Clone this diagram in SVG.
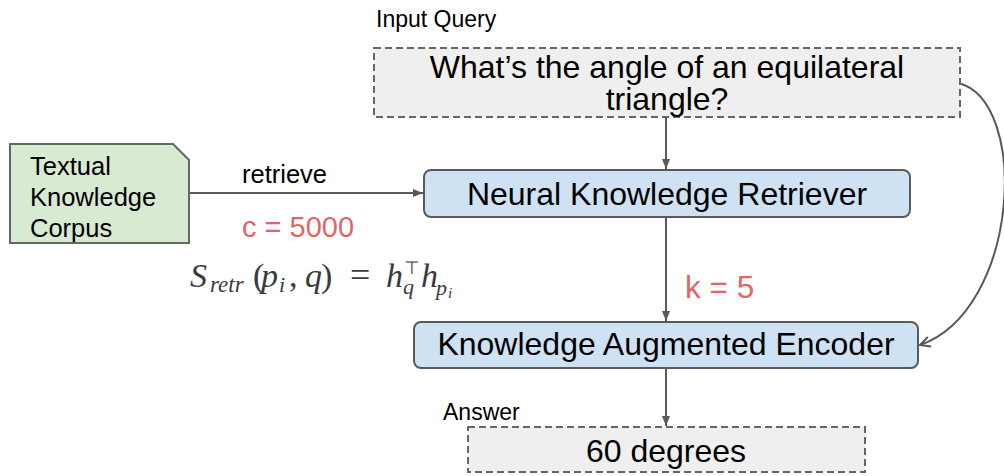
<svg xmlns="http://www.w3.org/2000/svg" width="1004" height="476" viewBox="0 0 1004 476">
<style>
.t{font-family:"Liberation Sans",Arial,sans-serif;fill:#000}
.red{font-family:"Liberation Sans",Arial,sans-serif;fill:#e06666}
.dash{fill:#efefef;stroke:#666;stroke-width:2;stroke-dasharray:7 4}
.blue{fill:#cfe2f3;stroke:#595959;stroke-width:2}
.line{fill:none;stroke:#595959;stroke-width:2}
.f{font-family:"Liberation Serif","Times New Roman",serif;fill:#3a3a3a;font-style:italic}
.fr{font-family:"Liberation Serif","Times New Roman",serif;fill:#3a3a3a}
</style>
<defs>
<marker id="ah" viewBox="0 0 10 10" refX="10" refY="5" markerWidth="10" markerHeight="10" markerUnits="userSpaceOnUse" orient="auto">
<path d="M0,1 L10,5 L0,9 Z" fill="#595959"/>
</marker>
<marker id="oa" viewBox="0 0 12 12" refX="11" refY="6" markerWidth="12" markerHeight="12" markerUnits="userSpaceOnUse" orient="auto">
<path d="M1,1 L11,6 L1,11" fill="none" stroke="#595959" stroke-width="2"/>
</marker>
</defs>
<g id="connectors">
<line class="line" x1="666" y1="117" x2="666" y2="169" marker-end="url(#ah)"/>
<line class="line" x1="189" y1="193" x2="423" y2="193" marker-end="url(#ah)"/>
<line class="line" x1="666" y1="217" x2="666" y2="321" marker-end="url(#ah)"/>
<line class="line" x1="666" y1="368" x2="666" y2="426" marker-end="url(#ah)"/>
<path class="line" d="M958,83 C1030,100 1020,310 920,345" marker-end="url(#oa)"/>
<text class="t" x="242" y="183" font-size="25.5">retrieve</text>
<text class="red" x="242" y="237" font-size="29">c = 5000</text>
<text class="red" x="685" y="298" font-size="31.5">k = 5</text>
</g>
<g id="input-query">
<text class="t" x="376" y="27" font-size="23">Input Query</text>
<rect class="dash" x="374" y="48" width="586" height="69"/>
<text class="t" x="667" y="78" font-size="32" text-anchor="middle">What’s the angle of an equilateral</text>
<text class="t" x="667" y="110" font-size="32" text-anchor="middle">triangle?</text>
</g>
<g id="corpus">
<path d="M10,144 L173,144 L189,160 L189,243 L10,243 Z" fill="#d9ead3" stroke="#666" stroke-width="2"/>
<text class="t" x="30" y="175" font-size="25.5">Textual</text>
<text class="t" x="30" y="206" font-size="25.5">Knowledge</text>
<text class="t" x="30" y="237" font-size="25.5">Corpus</text>
</g>
<g id="retriever">
<rect class="blue" x="424" y="170" width="486" height="47" rx="7"/>
<text class="t" x="667" y="205" font-size="32" text-anchor="middle">Neural Knowledge Retriever</text>
</g>
<g id="formula">
<text class="f" x="190" y="287" font-size="34">S</text>
<text class="f" x="210" y="292" font-size="23">retr</text>
<text class="fr" x="253" y="287" font-size="34">(</text>
<text class="f" x="261" y="287" font-size="34">p</text>
<text class="f" x="279" y="292" font-size="22">i</text>
<text class="fr" x="289" y="287" font-size="34">,</text>
<text class="f" x="305" y="287" font-size="34">q</text>
<text class="fr" x="321" y="287" font-size="34">)</text>
<text class="fr" x="350" y="287" font-size="36">=</text>
<text class="f" x="386" y="287" font-size="34">h</text>
<text class="fr" x="404" y="274" font-size="18">⊤</text>
<text class="f" x="403" y="294" font-size="22">q</text>
<text class="f" x="421" y="287" font-size="34">h</text>
<text class="f" x="436" y="295" font-size="22">p</text>
<text class="f" x="448" y="298" font-size="15">i</text>
</g>
<g id="encoder">
<rect class="blue" x="414" y="322" width="504" height="46" rx="7"/>
<text class="t" x="666" y="355" font-size="32" text-anchor="middle">Knowledge Augmented Encoder</text>
</g>
<g id="answer">
<text class="t" x="443" y="420" font-size="23">Answer</text>
<rect class="dash" x="468" y="427" width="397" height="45"/>
<text class="t" x="666" y="462" font-size="32" text-anchor="middle">60 degrees</text>
</g>
</svg>
